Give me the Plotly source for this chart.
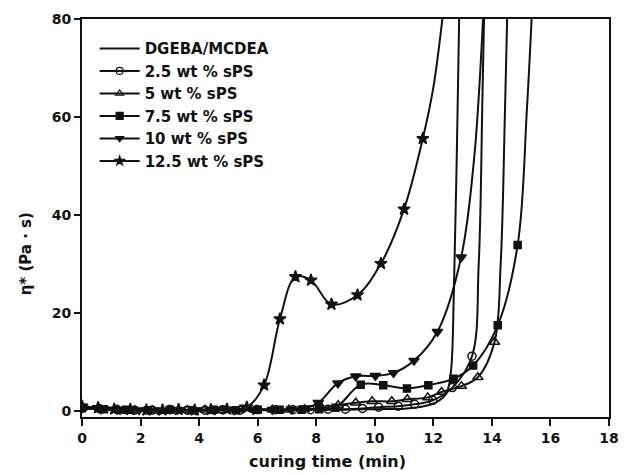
import plotly.graph_objects as go

# ---------------- data ----------------
names = ["DGEBA/MCDEA", "2.5 wt % sPS", "5 wt % sPS", "7.5 wt % sPS", "10 wt % sPS", "12.5 wt % sPS"]

# neat DGEBA/MCDEA (line only)
t_neat = [0, 1, 2, 3, 4, 5, 6, 7, 8, 9, 10, 11, 11.6, 12.1, 12.45, 12.6, 12.7, 12.8, 12.9]
eta_neat = [0.6, 0.3, 0.2, 0.2, 0.2, 0.2, 0.2, 0.2, 0.3, 0.3, 0.4, 0.5, 0.9, 1.8, 3.7, 8, 24, 52, 86]

# 2.5 wt % sPS (open circles)
t_25 = [0, 0.6, 1.2, 1.8, 2.4, 3.0, 3.6, 4.2, 4.8, 5.4, 6.0, 6.6, 7.2, 7.8, 8.4, 9.0, 9.58, 10.13, 10.8, 11.36, 11.98, 12.65, 13.32]
eta_25 = [0.8, 0.5, 0.3, 0.2, 0.2, 0.3, 0.2, 0.2, 0.3, 0.2, 0.3, 0.3, 0.3, 0.3, 0.4, 0.4, 0.55, 0.8, 1.0, 1.4, 2.2, 4.8, 11.2]
t_25_rise = [13.55, 13.68, 13.8]
eta_25_rise = [30, 65, 100]

# 5 wt % sPS (open triangles)
t_5 = [0, 0.6, 1.2, 1.8, 2.4, 3.0, 3.6, 4.2, 4.8, 5.4, 5.95, 6.5, 7.06, 7.6, 8.2, 8.75, 9.35, 9.91, 10.58, 11.11, 11.81, 12.28, 12.96, 13.52, 14.09]
eta_5 = [0.7, 0.4, 0.3, 0.2, 0.2, 0.3, 0.2, 0.3, 0.2, 0.3, 0.3, 0.3, 0.3, 0.4, 0.6, 1.2, 1.7, 2.0, 2.0, 2.4, 2.8, 3.9, 5.1, 6.9, 14.1]
t_5_rise = [14.3, 14.45, 14.6]
eta_5_rise = [30, 62, 100]

# 7.5 wt % sPS (filled squares)
t_75 = [0, 0.75, 1.5, 2.25, 3.0, 3.75, 4.5, 5.25, 6.0, 6.75, 7.5, 8.1, 8.66, 9.52, 10.29, 11.1, 11.83, 12.69, 13.36, 14.2, 14.88]
eta_75 = [0.6, 0.4, 0.3, 0.2, 0.3, 0.2, 0.3, 0.2, 0.3, 0.3, 0.3, 0.4, 0.7, 5.4, 5.3, 4.6, 5.3, 6.6, 9.3, 17.5, 33.9]
t_75_rise = [15.2, 15.45]
eta_75_rise = [62, 92]

# 10 wt % sPS (filled inverted triangles)
t_10 = [0, 0.65, 1.3, 1.95, 2.6, 3.25, 3.9, 4.55, 5.2, 5.85, 6.5, 7.15, 7.6, 8.07, 8.74, 9.35, 10.02, 10.64, 11.34, 12.14, 12.95]
eta_10 = [0.6, 0.4, 0.3, 0.2, 0.2, 0.3, 0.2, 0.3, 0.2, 0.3, 0.3, 0.4, 0.6, 1.7, 5.7, 7.1, 7.2, 7.8, 10.3, 16.2, 31.4]
t_10_rise = [13.4, 13.7, 13.8]
eta_10_rise = [52, 80, 92]

# 12.5 wt % sPS (filled stars)
t_125 = [0, 0.55, 1.1, 1.65, 2.2, 2.75, 3.3, 3.85, 4.4, 4.95, 5.63, 6.22, 6.76, 7.29, 7.82, 8.52, 9.41, 10.21, 11.0, 11.64]
eta_125 = [1.0, 0.7, 0.4, 0.3, 0.2, 0.2, 0.3, 0.2, 0.3, 0.4, 0.8, 5.3, 18.8, 27.4, 26.7, 21.8, 23.7, 30.1, 41.2, 55.6]
t_125_rise = [12.0, 12.31, 12.6]
eta_125_rise = [66, 80, 95]

x_ticks = [0, 2, 4, 6, 8, 10, 12, 14, 16, 18]
y_ticks = [0, 20, 40, 60, 80]
x_title = "curing time (min)"
y_title = "η* (Pa · s)"

# ---------------- figure ----------------
INK = "#111111"
FONT = "DejaVu Sans"
SMOOTH = 1.0
fig = go.Figure()

series = [
    (names[1], t_25, eta_25, t_25_rise, eta_25_rise, "circle-open", 8),
    (names[2], t_5, eta_5, t_5_rise, eta_5_rise, "triangle-up-open", 9),
    (names[3], t_75, eta_75, t_75_rise, eta_75_rise, "square", 7),
    (names[4], t_10, eta_10, t_10_rise, eta_10_rise, "triangle-down", 9),
    (names[5], t_125, eta_125, t_125_rise, eta_125_rise, "star", 9),
]

# neat curve
fig.add_trace(go.Scatter(x=t_neat, y=eta_neat, mode="lines",
                         line=dict(color=INK, width=2, shape="spline", smoothing=SMOOTH),
                         showlegend=False, hoverinfo="skip"))

for name, t, e, tr, er, sym, ms in series:
    fig.add_trace(go.Scatter(x=t + tr, y=e + er, mode="lines",
                             line=dict(color=INK, width=2, shape="spline", smoothing=SMOOTH),
                             showlegend=False, hoverinfo="skip"))
    fig.add_trace(go.Scatter(x=t, y=e, mode="markers",
                             marker=dict(symbol=sym, size=ms, color=INK,
                                         line=dict(color=INK, width=1.5)),
                             showlegend=False))

# legend entries
fig.add_trace(go.Scatter(x=[None], y=[None], mode="lines", name=names[0],
                         line=dict(color=INK, width=2), legendgroup="g0"))
for i, (name, t, e, tr, er, sym, ms) in enumerate(series):
    fig.add_trace(go.Scatter(x=[None], y=[None], mode="lines+markers", name=name,
                             line=dict(color=INK, width=2),
                             marker=dict(symbol=sym, size=7, color=INK,
                                         line=dict(color=INK, width=1.2)),
                             legendgroup="g%d" % (i + 1)))

fig.update_layout(
    width=630, height=475,
    margin=dict(l=82, r=11, t=16, b=58),
    paper_bgcolor="white", plot_bgcolor="white",
    font=dict(family=FONT, color=INK, size=14, weight="bold"),
    legend=dict(x=0.024, y=0.967, xanchor="left", yanchor="top",
                bgcolor="rgba(0,0,0,0)", font=dict(size=15, family=FONT, weight="bold"),
                tracegroupgap=0, itemwidth=40),
    xaxis=dict(range=[0, 18], tickvals=x_ticks, ticks="outside", ticklen=7, tickwidth=2,
               tickcolor=INK, showline=True, linewidth=2, linecolor=INK, mirror=True,
               showgrid=False, zeroline=False,
               tickfont=dict(size=14, family=FONT, weight="bold")),
    yaxis=dict(range=[-1.2, 80], tickvals=y_ticks, ticks="outside", ticklen=6, tickwidth=2,
               tickcolor=INK, showline=True, linewidth=2, linecolor=INK, mirror=True,
               showgrid=False, zeroline=False,
               tickfont=dict(size=14, family=FONT, weight="bold")),
    annotations=[
        dict(text=x_title, xref="paper", yref="paper", x=0.466, y=-0.112,
             xanchor="center", yanchor="middle", showarrow=False,
             font=dict(size=16, family=FONT, weight="bold", color=INK)),
        dict(text=y_title, xref="paper", yref="paper", x=-0.106, y=0.409,
             xanchor="center", yanchor="middle", showarrow=False, textangle=-90,
             font=dict(size=15, family=FONT, weight="bold", color=INK)),
    ],
)

fig.write_html("out.html")
